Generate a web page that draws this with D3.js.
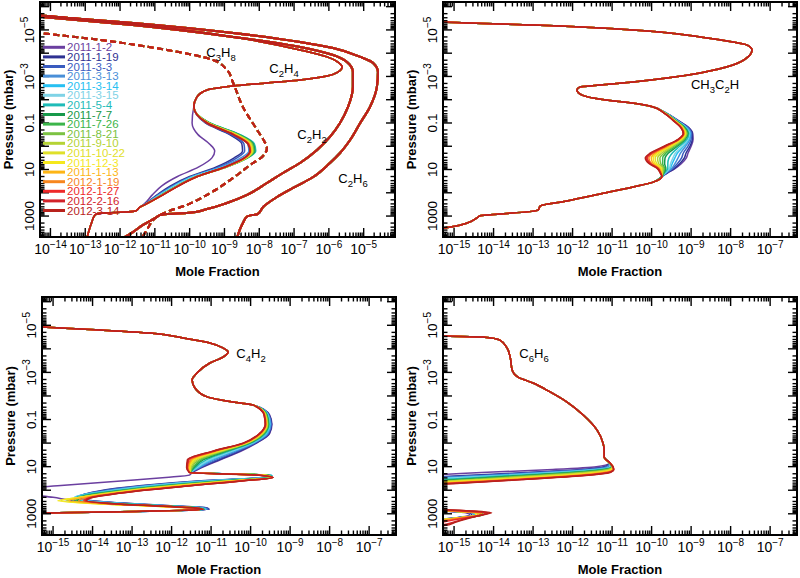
<!DOCTYPE html>
<html><head><meta charset="utf-8">
<script src="https://cdn.jsdelivr.net/npm/d3@7"></script>
<style>body{margin:0;background:#fff}svg{display:block}text{font-family:"Liberation Sans",Arial,Helvetica,sans-serif}</style>
</head><body><svg id="c" width="800" height="578"></svg>
<script>
// ---------------- DATA (log10 pressure [mbar], log10 mole fraction) ----------------
const dates = ["2011-1-2","2011-1-19","2011-3-3","2011-3-13","2011-3-14","2011-3-15","2011-5-4","2011-7-7","2011-7-26","2011-8-21","2011-9-10","2011-10-22","2011-12-3","2011-1-13","2012-1-19","2012-1-27","2012-2-16","2012-3-14"];
const dateColors = ["#6b3fa0","#2e3192","#3a5bbf","#4a8fd8","#27c0f2","#7fd3e6","#1fbcb8","#17994a","#3cb54a","#7cc242","#b5d334","#dfe02a","#f5e81d","#fdb515","#f7861e","#ee2a2a","#d2232a","#b8221c"];
const xTicksA = [-14,-13,-12,-11,-10,-9,-8,-7,-6,-5];
const xTicksB = [-15,-14,-13,-12,-11,-10,-9,-8,-7];
const yTickValues = [1e-5,1e-3,0.1,10,1000];
const yTickText = [["10","\u22125"],["10","\u22123"],["0.1",""],["10",""],["1000",""]];

const c2h6 = [[-5.70,-15],[-5.61,-14.3],[-5.30,-11.63],[-4.87,-8.75],[-4.48,-6.83],[-4.22,-5.88],[-3.84,-5.10],[-3.58,-4.73],[-3.19,-4.59],[-2.55,-4.62],[-1.69,-4.82],[-1.0,-5.10],[-0.27,-5.39],[0.29,-5.68],[0.72,-5.97],[1.32,-6.45],[1.79,-7.03],[2.18,-7.49],[2.61,-7.89],[2.92,-8.05],[2.97,-8.25],[3.02,-8.35],[3.30,-8.47],[3.94,-8.64]];
const c2h2 = [[-5.66,-15],[-5.57,-14.3],[-5.21,-11.63],[-4.70,-8.75],[-4.27,-6.83],[-3.92,-5.88],[-3.62,-5.48],[-3.19,-5.31],[-2.55,-5.31],[-1.69,-5.45],[-1.0,-5.68],[-0.40,-5.97],[0.16,-6.34],[0.72,-6.83],[1.15,-7.32],[1.58,-7.78],[2.09,-8.35],[2.44,-8.93],[2.70,-9.50],[2.87,-10.08],[2.91,-10.65],[2.96,-10.85],[3.04,-10.94],[3.38,-11.34],[3.69,-11.63],[3.94,-11.91]];
const c3h8 = [[-5.0,-15],[-4.87,-14.3],[-4.57,-12.58],[-4.14,-10.65],[-3.71,-9.33],[-3.28,-8.93],[-2.72,-8.75],[-1.69,-8.47],[-0.70,-8.06],[-0.14,-7.83],[0.07,-7.78],[0.46,-7.92],[0.72,-8.18],[1.36,-8.75],[2.01,-9.41],[2.52,-10.08],[2.82,-10.65],[3.04,-10.94],[3.60,-11.23],[3.94,-11.37]];

const c2h4Top = [[-5.72,-14.8],[-5.64,-14.3],[-5.25,-11.63],[-4.70,-8.75],[-4.14,-6.83],[-3.84,-6.05],[-3.62,-5.74],[-3.41,-5.62],[-3.19,-5.74],[-3.02,-6.05],[-2.85,-6.83],[-2.72,-7.78],[-2.59,-8.75],[-2.42,-9.50],[-2.12,-9.79]];
const c2h4VarP = [-1.7,-1.0,-0.5,-0.1,0.2,0.5,0.9,1.3,1.7,2.1,2.5];
const c2h4Var = [
 [-9.88,-9.93,-9.76,-9.43,-9.28,-9.36,-9.75,-10.35,-10.80,-11.08,-11.32],
 [-9.88,-9.55,-8.85,-8.50,-8.48,-8.72,-9.25,-10.00,-10.55,-10.95,-11.30],
 [-9.88,-9.53,-8.80,-8.44,-8.42,-8.64,-9.18,-9.95,-10.50,-10.92,-11.29],
 [-9.88,-9.50,-8.70,-8.33,-8.30,-8.53,-9.12,-9.92,-10.46,-10.90,-11.29],
 [-9.88,-9.45,-8.60,-8.20,-8.17,-8.42,-9.06,-9.90,-10.44,-10.88,-11.28],
 [-9.88,-9.42,-8.56,-8.15,-8.12,-8.36,-9.02,-9.86,-10.42,-10.86,-11.28],
 [-9.88,-9.42,-8.55,-8.14,-8.10,-8.33,-8.96,-9.80,-10.36,-10.82,-11.28],
 [-9.88,-9.43,-8.58,-8.17,-8.13,-8.34,-8.96,-9.79,-10.35,-10.81,-11.27],
 [-9.88,-9.44,-8.60,-8.19,-8.15,-8.35,-8.96,-9.79,-10.34,-10.80,-11.27],
 [-9.88,-9.45,-8.62,-8.21,-8.17,-8.36,-8.97,-9.78,-10.34,-10.80,-11.27],
 [-9.88,-9.46,-8.64,-8.23,-8.19,-8.37,-8.97,-9.78,-10.33,-10.79,-11.27],
 [-9.88,-9.47,-8.66,-8.25,-8.20,-8.38,-8.98,-9.78,-10.33,-10.79,-11.27],
 [-9.88,-9.47,-8.68,-8.27,-8.22,-8.39,-8.98,-9.78,-10.33,-10.79,-11.27],
 [-9.88,-9.48,-8.70,-8.28,-8.23,-8.40,-8.99,-9.78,-10.32,-10.78,-11.27],
 [-9.88,-9.49,-8.72,-8.30,-8.25,-8.41,-8.99,-9.78,-10.32,-10.78,-11.27],
 [-9.88,-9.50,-8.73,-8.31,-8.26,-8.42,-9.00,-9.78,-10.32,-10.78,-11.27],
 [-9.88,-9.50,-8.74,-8.32,-8.26,-8.43,-9.00,-9.78,-10.32,-10.78,-11.27],
 [-9.88,-9.50,-8.75,-8.33,-8.27,-8.43,-9.00,-9.78,-10.32,-10.78,-11.27]];
const c2h4Bottom = [[2.62,-11.43],[2.78,-11.55],[2.84,-12.0],[2.88,-12.6],[2.95,-12.72],[3.3,-12.82],[3.94,-12.95]];

const ch3c2hTop = [[-5.42,-16],[-5.34,-15.28],[-5.21,-13.0],[-5.0,-10.47],[-4.70,-8.77],[-4.48,-7.94],[-4.35,-7.58],[-4.14,-7.46],[-3.84,-7.56],[-3.49,-7.94],[-3.15,-8.77],[-2.93,-9.61],[-2.76,-10.47],[-2.63,-11.30],[-2.55,-11.81],[-2.42,-11.89],[-2.2,-11.76],[-2.0,-11.20],[-1.85,-10.45],[-1.7,-9.98]];
const ch3c2hVarP = [-1.45,-1.1,-0.8,-0.55,-0.3,0.0,0.3,0.5,0.75,0.95,1.15];
const ch3c2hVar = [
 [-9.66,-9.32,-9.06,-8.96,-8.95,-9.00,-9.08,-9.12,-9.25,-9.40,-9.60],
 [-9.66,-9.33,-9.07,-8.97,-8.97,-9.03,-9.13,-9.17,-9.29,-9.42,-9.61],
 [-9.66,-9.34,-9.08,-8.99,-9.00,-9.08,-9.20,-9.24,-9.35,-9.46,-9.62],
 [-9.67,-9.35,-9.10,-9.01,-9.03,-9.14,-9.27,-9.33,-9.41,-9.49,-9.64],
 [-9.67,-9.36,-9.12,-9.03,-9.06,-9.19,-9.35,-9.41,-9.48,-9.53,-9.65],
 [-9.67,-9.36,-9.13,-9.04,-9.08,-9.22,-9.40,-9.46,-9.52,-9.55,-9.66],
 [-9.68,-9.37,-9.14,-9.06,-9.11,-9.29,-9.48,-9.56,-9.59,-9.59,-9.68],
 [-9.68,-9.39,-9.16,-9.08,-9.15,-9.35,-9.58,-9.66,-9.67,-9.64,-9.69],
 [-9.68,-9.40,-9.18,-9.10,-9.17,-9.39,-9.64,-9.72,-9.72,-9.67,-9.70],
 [-9.69,-9.40,-9.19,-9.11,-9.19,-9.44,-9.69,-9.79,-9.77,-9.69,-9.72],
 [-9.69,-9.41,-9.20,-9.13,-9.22,-9.48,-9.75,-9.85,-9.82,-9.72,-9.73],
 [-9.69,-9.42,-9.21,-9.14,-9.24,-9.52,-9.81,-9.91,-9.87,-9.75,-9.74],
 [-9.69,-9.43,-9.22,-9.15,-9.26,-9.55,-9.86,-9.96,-9.91,-9.77,-9.75],
 [-9.69,-9.43,-9.23,-9.17,-9.28,-9.58,-9.91,-10.01,-9.95,-9.80,-9.75],
 [-9.70,-9.44,-9.24,-9.18,-9.30,-9.62,-9.95,-10.07,-9.99,-9.82,-9.76],
 [-9.70,-9.44,-9.25,-9.19,-9.31,-9.65,-9.99,-10.11,-10.02,-9.84,-9.77],
 [-9.70,-9.45,-9.26,-9.20,-9.32,-9.67,-10.02,-10.14,-10.04,-9.85,-9.78],
 [-9.70,-9.45,-9.26,-9.20,-9.33,-9.68,-10.04,-10.16,-10.06,-9.86,-9.78]];
const ch3c2hBottom = [[1.3,-9.74],[1.54,-9.96],[1.75,-10.47],[2.05,-11.30],[2.35,-12.14],[2.57,-12.82],[2.74,-12.87],[2.82,-13.15],[2.91,-13.84],[2.99,-14.34],[3.08,-14.42],[3.30,-14.67],[3.51,-15.28],[3.6,-16]];

const c4h2Top = [[-5.0,-16],[-4.93,-15.28],[-4.80,-13.81],[-4.67,-12.55],[-4.46,-11.71],[-4.25,-11.03],[-4.04,-10.70],[-3.87,-10.57],[-3.65,-10.70],[-3.40,-11.03],[-2.97,-11.36],[-2.68,-11.48],[-2.34,-11.41],[-1.96,-11.10],[-1.74,-10.44]];
const c4h2VarP = [-1.62,-1.2,-0.8,-0.4,0.0,0.35,0.7,1.05,1.25,1.36,1.46,1.6,1.8,2.05,2.3,2.45,2.6,2.75,2.82,2.9,2.97,3.05];
const c4h2Var = [
 [-9.94,-9.52,-9.46,-9.52,-9.85,-10.25,-10.75,-11.25,-11.48,-11.55,-12.15,-13.20,-14.80,-16.3,-15.0,-14.4,-13.0,-11.4,-11.05,-12.9,-15.28,-16.5],
 [-9.94,-9.53,-9.47,-9.53,-9.87,-10.29,-10.79,-11.27,-11.48,-9.50,-9.72,-11.25,-12.75,-13.90,-14.35,-14.00,-12.70,-11.10,-11.05,-12.9,-15.28,-16.5],
 [-9.94,-9.54,-9.48,-9.55,-9.89,-10.34,-10.85,-11.29,-11.49,-9.48,-9.68,-11.15,-12.65,-13.85,-14.38,-14.05,-12.75,-11.12,-11.07,-12.9,-15.28,-16.5],
 [-9.94,-9.55,-9.49,-9.57,-9.92,-10.40,-10.92,-11.32,-11.49,-9.46,-9.64,-11.05,-12.55,-13.75,-14.42,-14.15,-12.85,-11.2,-11.1,-12.95,-15.28,-16.5],
 [-9.94,-9.56,-9.51,-9.59,-9.95,-10.45,-10.99,-11.35,-11.50,-9.45,-9.60,-10.98,-12.48,-13.70,-14.45,-14.20,-12.90,-11.25,-11.13,-12.95,-15.28,-16.5],
 [-9.94,-9.57,-9.52,-9.61,-9.96,-10.49,-11.03,-11.37,-11.50,-9.45,-9.58,-10.92,-12.42,-13.65,-14.45,-14.25,-12.95,-11.27,-11.14,-12.95,-15.28,-16.5],
 [-9.94,-9.58,-9.53,-9.63,-9.99,-10.56,-11.11,-11.41,-11.51,-9.47,-9.55,-10.80,-12.30,-13.58,-14.40,-14.30,-13.0,-11.3,-11.15,-12.95,-15.28,-16.5],
 [-9.94,-9.59,-9.55,-9.66,-10.03,-10.63,-11.19,-11.44,-11.52,-9.52,-9.52,-10.65,-12.10,-13.45,-14.32,-14.38,-13.15,-11.33,-11.17,-12.95,-15.28,-16.5],
 [-9.94,-9.60,-9.56,-9.67,-10.05,-10.67,-11.24,-11.46,-11.52,-9.55,-9.50,-10.60,-12.00,-13.40,-14.30,-14.42,-13.20,-11.35,-11.18,-12.95,-15.28,-16.5],
 [-9.94,-9.61,-9.57,-9.69,-10.07,-10.72,-11.29,-11.49,-11.52,-9.58,-9.48,-10.55,-11.95,-13.35,-14.30,-14.50,-13.30,-11.38,-11.19,-12.95,-15.28,-16.5],
 [-9.94,-9.62,-9.58,-9.70,-10.09,-10.76,-11.35,-11.51,-11.53,-9.60,-9.47,-10.50,-11.90,-13.30,-14.30,-14.65,-13.45,-11.42,-11.2,-12.95,-15.28,-16.5],
 [-9.94,-9.63,-9.59,-9.72,-10.11,-10.80,-11.40,-11.53,-11.53,-9.63,-9.46,-10.45,-11.85,-13.25,-14.30,-14.80,-13.55,-11.46,-11.22,-12.95,-15.28,-16.5],
 [-9.94,-9.63,-9.60,-9.73,-10.13,-10.84,-11.44,-11.55,-11.54,-9.65,-9.45,-10.40,-11.80,-13.20,-14.30,-14.88,-13.60,-11.48,-11.23,-12.95,-15.28,-16.5],
 [-9.94,-9.64,-9.61,-9.74,-10.14,-10.88,-11.48,-11.57,-11.54,-9.68,-9.44,-10.32,-11.68,-13.10,-14.20,-14.60,-13.45,-11.45,-11.22,-12.92,-15.28,-16.5],
 [-9.94,-9.65,-9.61,-9.76,-10.16,-10.91,-11.52,-11.59,-11.54,-9.72,-9.44,-10.25,-11.58,-13.05,-14.10,-14.35,-13.35,-11.42,-11.21,-12.91,-15.28,-16.5],
 [-9.94,-9.65,-9.62,-9.77,-10.17,-10.94,-11.56,-11.60,-11.55,-9.76,-9.43,-10.20,-11.50,-13.00,-14.03,-14.22,-13.30,-11.41,-11.20,-12.90,-15.28,-16.5],
 [-9.94,-9.66,-9.63,-9.77,-10.18,-10.97,-11.58,-11.61,-11.55,-9.78,-9.43,-10.17,-11.47,-12.97,-14.00,-14.18,-13.27,-11.40,-11.20,-12.90,-15.28,-16.5],
 [-9.94,-9.66,-9.63,-9.78,-10.19,-10.98,-11.60,-11.62,-11.55,-9.80,-9.43,-10.15,-11.45,-12.95,-13.98,-14.15,-13.25,-11.40,-11.20,-12.90,-15.28,-16.5]];

const c6h6Top = [[-4.6,-16],[-4.54,-15.28],[-4.50,-14.27],[-4.37,-13.84],[-4.04,-13.66],[-3.65,-13.58],[-3.10,-13.53],[-2.80,-13.38],[-2.55,-13.0],[-2.17,-12.57],[-1.74,-12.14],[-1.19,-11.73],[-0.55,-11.38],[0.0,-11.23],[0.29,-11.20],[0.59,-11.20]];
const c6h6VarP = [0.85,1.0,1.12,1.25,1.4,1.55,1.7,1.85,2.0,2.6,2.8,2.88,2.96,3.05,3.2,3.35,3.5,3.62];
const c6h6Var = [
 [-11.08,-11.40,-12.50,-14.30,-16.00,-17,-17,-17,-17,-17,-16.0,-15.3,-14.7,-14.6,-15.1,-16.0,-17,-17],
 [-11.07,-11.20,-11.80,-13.20,-15.00,-16.5,-17,-17,-17,-17,-16.0,-15.2,-14.6,-14.55,-15.1,-16.0,-17,-17],
 [-11.07,-11.15,-11.65,-13.00,-14.70,-16.4,-17,-17,-17,-17,-16.0,-15.2,-14.55,-14.5,-15.1,-16.0,-17,-17],
 [-11.06,-11.10,-11.50,-12.70,-14.40,-16.2,-17,-17,-17,-17,-16.0,-15.15,-14.5,-14.5,-15.05,-15.9,-17,-17],
 [-11.06,-11.05,-11.40,-12.50,-14.20,-16.0,-17,-17,-17,-17,-16.0,-15.1,-14.5,-14.5,-15.05,-15.9,-17,-17],
 [-11.06,-11.04,-11.35,-12.40,-14.00,-15.8,-17,-17,-17,-17,-16.0,-15.1,-14.45,-14.45,-15.0,-15.9,-17,-17],
 [-11.06,-11.02,-11.30,-12.20,-13.80,-15.3,-16.8,-17,-17,-17,-16.0,-15.1,-14.4,-14.4,-15.0,-15.9,-17,-17],
 [-11.06,-11.00,-11.20,-12.00,-13.50,-15.0,-16.6,-17,-17,-17,-16.0,-15.05,-14.35,-14.3,-14.95,-15.85,-17,-17],
 [-11.06,-11.00,-11.15,-11.90,-13.30,-14.8,-16.4,-17,-17,-17,-16.0,-15.05,-14.3,-14.27,-14.9,-15.8,-17,-17],
 [-11.06,-10.99,-11.10,-11.75,-13.10,-14.6,-16.2,-17,-17,-17,-16.0,-15.05,-14.3,-14.3,-14.95,-15.85,-17,-17],
 [-11.06,-10.99,-11.06,-11.60,-12.90,-14.4,-16.0,-17,-17,-17,-16.0,-15.1,-14.35,-14.35,-15.0,-15.9,-17,-17],
 [-11.06,-10.98,-11.03,-11.45,-12.60,-14.2,-15.8,-17,-17,-17,-16.0,-15.1,-14.4,-14.4,-15.0,-15.9,-17,-17],
 [-11.06,-10.98,-11.00,-11.35,-12.40,-14.0,-15.6,-17,-17,-17,-16.0,-15.1,-14.45,-14.45,-15.05,-15.9,-17,-17],
 [-11.05,-10.98,-10.98,-11.25,-12.20,-13.75,-15.4,-16.9,-17,-17,-16.0,-15.1,-14.4,-14.4,-15.0,-15.8,-17,-17],
 [-11.05,-10.98,-10.97,-11.18,-12.05,-13.55,-15.2,-16.7,-17,-17,-15.9,-15.0,-14.3,-14.35,-14.9,-15.6,-16.5,-17],
 [-11.05,-10.98,-10.96,-11.10,-11.95,-13.40,-15.05,-16.5,-17,-17,-15.7,-14.8,-14.2,-14.3,-14.8,-15.3,-15.8,-16.5],
 [-11.05,-10.98,-10.96,-11.08,-11.90,-13.30,-14.95,-16.4,-17,-17,-15.6,-14.6,-14.1,-14.3,-14.7,-15.0,-15.4,-16.2],
 [-11.05,-10.98,-10.96,-11.05,-11.85,-13.25,-14.85,-16.3,-17,-17,-15.5,-14.5,-14.05,-14.3,-14.65,-14.95,-15.25,-16]];

// ---------------- BUILD ----------------
function withVar(top, varP, row, bottom){ return top.concat(varP.map((p,i)=>[p,row[i]]), bottom||[]); }
const speciesDefs = {
  c2h6:  d=>c2h6,
  c2h2:  d=>c2h2,
  c3h8:  d=>c3h8,
  c2h4:  d=>withVar(c2h4Top,c2h4VarP,c2h4Var[d],c2h4Bottom),
  ch3c2h:d=>withVar(ch3c2hTop,ch3c2hVarP,ch3c2hVar[d],ch3c2hBottom),
  c4h2:  d=>withVar(c4h2Top,c4h2VarP,c4h2Var[d],[]),
  c6h6:  d=>withVar(c6h6Top,c6h6VarP,c6h6Var[d],[])
};
const yDom = [-6.2, 3.9];
const panels = [
  {x0:40, x1:395, y0:2,   y1:237, xd:[-14.3,-4.1],  ticks:xTicksA, sp:["c2h6","c2h2","c3h8","c2h4"], legend:true,
   labels:[{t:[["C",0],["3",1],["H",0],["8",1]],x:221,y:57},{t:[["C",0],["2",1],["H",0],["4",1]],x:284,y:73},{t:[["C",0],["2",1],["H",0],["2",1]],x:312,y:139},{t:[["C",0],["2",1],["H",0],["6",1]],x:353,y:183}]},
  {x0:443,x1:797, y0:2,   y1:237, xd:[-15.28,-6.32],ticks:xTicksB, sp:["ch3c2h"],
   labels:[{t:[["CH",0],["3",1],["C",0],["2",1],["H",0]],x:715,y:89}]},
  {x0:42, x1:396, y0:297, y1:535, xd:[-15.28,-6.32],ticks:xTicksB, sp:["c4h2"],
   labels:[{t:[["C",0],["4",1],["H",0],["2",1]],x:251,y:358}]},
  {x0:443,x1:797, y0:297, y1:535, xd:[-15.28,-6.32],ticks:xTicksB, sp:["c6h6"],
   labels:[{t:[["C",0],["6",1],["H",0],["6",1]],x:534,y:358}]}
];

const svg = d3.select("#c");
const defs = svg.append("defs");

panels.forEach((p,pi)=>{
  const xs = d3.scaleLog().domain([10**p.xd[0],10**p.xd[1]]).range([p.x0,p.x1]);
  const ys = d3.scaleLog().domain([10**yDom[0],10**yDom[1]]).range([p.y0,p.y1]);
  defs.append("clipPath").attr("id","clip"+pi).append("rect")
    .attr("x",p.x0).attr("y",p.y0).attr("width",p.x1-p.x0).attr("height",p.y1-p.y0);
  const g = svg.append("g").attr("clip-path",`url(#clip${pi})`);
  const line = d3.line().x(d=>xs(10**d[1])).y(d=>ys(10**d[0])).curve(d3.curveMonotoneY);
  dates.forEach((dt,di)=>{
    p.sp.forEach(s=>{
      const common = (s==="c2h6"||s==="c2h2"||s==="c3h8");
      g.append("path").attr("d",line(speciesDefs[s](di)))
        .attr("fill","none").attr("stroke",dateColors[di])
        .attr("stroke-width",common?2:1.5)
        .attr("stroke-dasharray",s==="c3h8"?"6,3.5":null);
    });
  });
  // ticks
  const ax = svg.append("g").attr("stroke","#000");
  for(let k=Math.floor(p.xd[0]);k<=Math.ceil(p.xd[1]);k++){
    for(let m=1;m<=9;m++){
      const v=m*10**k, lv=Math.log10(v);
      if(lv<p.xd[0]||lv>p.xd[1]) continue;
      const x=xs(v), L=m===1?9:4.5;
      ax.append("line").attr("x1",x).attr("x2",x).attr("y1",p.y1).attr("y2",p.y1-L).attr("stroke-width",1.4);
      ax.append("line").attr("x1",x).attr("x2",x).attr("y1",p.y0).attr("y2",p.y0+L).attr("stroke-width",1.4);
    }
  }
  for(let k=Math.floor(yDom[0]);k<=Math.ceil(yDom[1]);k++){
    for(let m=1;m<=9;m++){
      const v=m*10**k, lv=Math.log10(v);
      if(lv<yDom[0]||lv>yDom[1]) continue;
      const y=ys(v), L=m===1?9:4.5;
      ax.append("line").attr("y1",y).attr("y2",y).attr("x1",p.x0).attr("x2",p.x0+L).attr("stroke-width",1.4);
      ax.append("line").attr("y1",y).attr("y2",y).attr("x1",p.x1).attr("x2",p.x1-L).attr("stroke-width",1.4);
    }
  }
  svg.append("rect").attr("x",p.x0).attr("y",p.y0).attr("width",p.x1-p.x0).attr("height",p.y1-p.y0)
    .attr("fill","none").attr("stroke","#000").attr("stroke-width",2);
  // x labels
  p.ticks.forEach(e=>{
    const t=svg.append("text").attr("x",xs(10**e)).attr("y",p.y1+17).attr("text-anchor","middle").attr("font-size",14);
    t.append("tspan").text("10");
    t.append("tspan").attr("font-size",10).attr("dy",-6).text("\u2212"+Math.abs(e));
  });
  // y labels
  yTickValues.forEach((v,i)=>{
    const t=svg.append("text").attr("transform",`translate(${p.x0-6},${ys(v)}) rotate(-90)`).attr("text-anchor","middle").attr("font-size",13.5);
    t.append("tspan").text(yTickText[i][0]);
    if(yTickText[i][1]) t.append("tspan").attr("font-size",10).attr("dy",-6).text(yTickText[i][1]);
  });
  // axis titles
  svg.append("text").attr("x",(p.x0+p.x1)/2).attr("y",p.y1+39).attr("text-anchor","middle")
    .attr("font-size",13).attr("font-weight","bold").text("Mole Fraction");
  svg.append("text").attr("transform",`translate(${p.x0-27},${(p.y0+p.y1)/2}) rotate(-90)`).attr("text-anchor","middle")
    .attr("font-size",13).attr("font-weight","bold").text("Pressure (mbar)");
  // species labels
  p.labels.forEach(lb=>{
    const t=svg.append("text").attr("x",lb.x).attr("y",lb.y).attr("text-anchor","middle").attr("font-size",13);
    let sh=0;
    lb.t.forEach(([s,sub])=>{
      const ns=sub?3.5:0;
      t.append("tspan").attr("dy",ns-sh).attr("font-size",sub?9.5:13).text(s);
      sh=ns;
    });
  });
  // legend
  if(p.legend){
    dates.forEach((dt,i)=>{
      const y=47.3+i*9.6;
      svg.append("line").attr("x1",p.x0+3).attr("x2",p.x0+25).attr("y1",y).attr("y2",y)
        .attr("stroke",dateColors[i]).attr("stroke-width",3);
      svg.append("text").attr("x",p.x0+27).attr("y",y+4).attr("font-size",11.5).attr("fill",dateColors[i]).text(dt);
    });
  }
});
</script></body></html>
